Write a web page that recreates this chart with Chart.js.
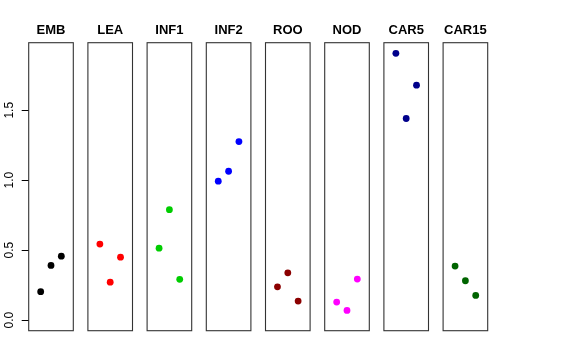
<!DOCTYPE html>
<html>
<head>
<meta charset="utf-8">
<script src="https://cdn.jsdelivr.net/npm/chart.js@4.4.0/dist/chart.umd.min.js"></script>
<style>
  html, body { margin: 0; padding: 0; background: #fff; }
  #wrap { position: relative; width: 576px; height: 360px; overflow: hidden; }
  #wrap canvas { position: absolute; top: 0; }
</style>
</head>
<body>
<div id="wrap"></div>
<script>
// ========== DATA ==========
var panelNames = ["EMB", "LEA", "INF1", "INF2", "ROO", "NOD", "CAR5", "CAR15"];
var panelColors = ["#000000", "#ff0000", "#00cd00", "#0000ff", "#8b0000", "#ff00ff", "#00008b", "#006400"];
var xPositions = [1, 2, 3];
var valuesEMB = [0.203, 0.391, 0.457];
var valuesLEA = [0.543, 0.271, 0.450];
var valuesINF1 = [0.514, 0.789, 0.291];
var valuesINF2 = [0.993, 1.064, 1.276];
var valuesROO = [0.238, 0.338, 0.136];
var valuesNOD = [0.129, 0.069, 0.293];
var valuesCAR5 = [1.907, 1.441, 1.679];
var valuesCAR15 = [0.386, 0.281, 0.176];
var panelValues = [valuesEMB, valuesLEA, valuesINF1, valuesINF2, valuesROO, valuesNOD, valuesCAR5, valuesCAR15];
var yTicks = [0.0, 0.5, 1.0, 1.5];

// ========== LAYOUT ==========
var firstLeft = 28.7, step = 59.2, panelW = 44.6;
var areaTop = 42.7, areaBottom = 330.7;
var yMin = -0.076, yMax = 1.983, xMin = -0.16, xMax = 4.16;

Chart.defaults.font.family = "'Liberation Sans', Arial, Helvetica, sans-serif";
Chart.defaults.color = "#000";

// box + title drawn around each panel
var panelDeco = {
  id: "panelDeco",
  afterDraw: function (chart) {
    var a = chart.chartArea, ctx = chart.ctx;
    ctx.save();
    ctx.strokeStyle = "#333";
    ctx.lineWidth = 1.1;
    ctx.strokeRect(a.left, a.top, a.right - a.left, a.bottom - a.top);
    ctx.fillStyle = "#000";
    ctx.font = "bold 13px 'Liberation Sans', Arial, sans-serif";
    ctx.textAlign = "center";
    ctx.textBaseline = "alphabetic";
    ctx.fillText(chart.options.panelTitle, (a.left + a.right) / 2, a.top - 9);
    ctx.restore();
  }
};

var wrap = document.getElementById("wrap");

panelNames.forEach(function (name, k) {
  var left = firstLeft + step * k;
  var canvas = document.createElement("canvas");
  var canvasLeft, canvasW, padL, padR;
  if (k === 0) {
    canvasLeft = 0;
    canvasW = Math.ceil(left + panelW) + 4;
    padL = 0;
  } else {
    canvasLeft = Math.floor(left) - 4;
    canvasW = Math.ceil(panelW) + 9;
    padL = left - canvasLeft;
  }
  padR = canvasW - (left - canvasLeft) - panelW;
  canvas.style.left = canvasLeft + "px";
  canvas.style.width = canvasW + "px";
  canvas.style.height = "360px";
  canvas.width = canvasW;
  canvas.height = 360;
  wrap.appendChild(canvas);

  var pts = xPositions.map(function (x, i) { return { x: x, y: panelValues[k][i] }; });

  new Chart(canvas, {
    type: "scatter",
    data: {
      datasets: [{
        data: pts,
        backgroundColor: panelColors[k],
        borderWidth: 0,
        pointRadius: 3.4,
        pointHoverRadius: 3.4
      }]
    },
    options: {
      panelTitle: name,
      responsive: false,
      animation: false,
      layout: { padding: { top: areaTop, bottom: 360 - areaBottom, left: padL, right: padR } },
      plugins: { legend: { display: false }, tooltip: { enabled: false } },
      scales: {
        x: { type: "linear", display: false, min: xMin, max: xMax },
        y: {
          type: "linear",
          display: k === 0,
          min: yMin,
          max: yMax,
          afterBuildTicks: function (axis) {
            axis.ticks = yTicks.map(function (v) { return { value: v }; });
          },
          afterFit: function (axis) { axis.width = (k === 0) ? firstLeft : 0; },
          border: { display: false },
          grid: { drawOnChartArea: false, drawTicks: true, tickLength: 7, color: "#000", tickWidth: 1 },
          ticks: {
            minRotation: 90,
            maxRotation: 90,
            crossAlign: "center",
            padding: 4,
            color: "#000",
            font: { size: 12 },
            callback: function (v) { return Number(v).toFixed(1); }
          }
        }
      }
    },
    plugins: [panelDeco]
  });
});
</script>
</body>
</html>
